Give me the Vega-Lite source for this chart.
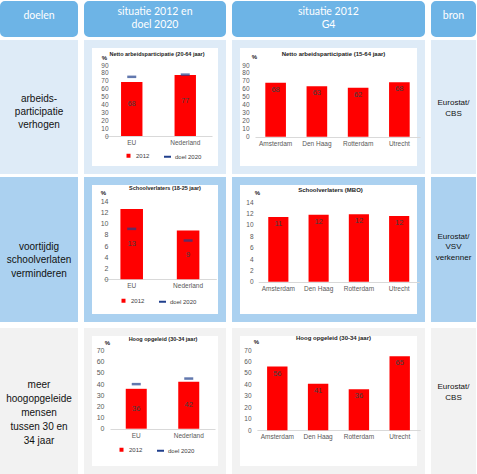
{
  "$schema": "https://vega.github.io/schema/vega-lite/v6.json",
  "background": "white",
  "padding": {"top": 1, "left": 0, "right": 0, "bottom": 0},
  "config": {
    "font": "Liberation Sans",
    "axis": {"grid": false, "ticks": false, "tickSize": 0, "labelFontSize": 6.5, "labelColor": "#595959", "labelFont": "Liberation Sans", "labelFlush": false, "labelOverlap": false},
    "title": {"fontSize": 5.5, "fontWeight": "bold", "font": "Liberation Sans", "color": "#222222", "baseline": "middle", "anchor": "middle"},
    "legend": {"padding": 0, "labelFontSize": 6, "labelColor": "#404040", "labelFont": "Liberation Sans", "symbolSize": 16, "labelOffset": 3, "columnPadding": 10}
  },
  "spacing": 6,
  "resolve": {"scale": {"color": "independent", "x": "independent", "y": "independent"}, "legend": {"color": "independent"}},
  "vconcat": [
    {
      "spacing": 3,
      "resolve": {"scale": {"color": "independent", "x": "independent", "y": "independent"}, "legend": {"color": "independent"}},
      "vconcat": [
        {
          "spacing": 6,
          "hconcat": [
            {"width": 70, "height": 28, "view": {"fill": "#6db4e6", "stroke": "#6db4e6", "strokeWidth": 8, "cornerRadius": 1},
             "data": {"values": [{"t": "doelen"}]},
             "mark": {"type": "text", "font": "Lato", "fontSize": 10.5, "color": "white", "lineBreak": "\n", "lineHeight": 13, "baseline": "top", "dy": -8.5},
             "encoding": {"text": {"field": "t", "type": "nominal"}}},
            {"width": 134, "height": 28, "view": {"fill": "#6db4e6", "stroke": "#6db4e6", "strokeWidth": 8, "cornerRadius": 1},
             "data": {"values": [{"t": "situatie 2012 en\ndoel 2020"}]},
             "mark": {"type": "text", "font": "Lato", "fontSize": 10.5, "color": "white", "lineBreak": "\n", "lineHeight": 13, "baseline": "top", "dy": -11.7},
             "encoding": {"text": {"field": "t", "type": "nominal"}}},
            {"width": 185, "height": 28, "view": {"fill": "#6db4e6", "stroke": "#6db4e6", "strokeWidth": 8, "cornerRadius": 1},
             "data": {"values": [{"t": "situatie 2012\nG4"}]},
             "mark": {"type": "text", "font": "Lato", "fontSize": 10.5, "color": "white", "lineBreak": "\n", "lineHeight": 13, "baseline": "top", "dy": -11.7},
             "encoding": {"text": {"field": "t", "type": "nominal"}}},
            {"width": 37, "height": 28, "view": {"fill": "#6db4e6", "stroke": "#6db4e6", "strokeWidth": 8, "cornerRadius": 1},
             "data": {"values": [{"t": "bron"}]},
             "mark": {"type": "text", "font": "Lato", "fontSize": 10.5, "color": "white", "lineBreak": "\n", "lineHeight": 13, "baseline": "top", "dy": -8.5},
             "encoding": {"text": {"field": "t", "type": "nominal"}}}
          ]
        },
        {
          "spacing": 6,
          "resolve": {"scale": {"color": "independent", "x": "independent", "y": "independent"}, "legend": {"color": "independent"}},
          "hconcat": [
            {"width": 70, "height": 126, "view": {"fill": "#deebf7", "stroke": "#deebf7", "strokeWidth": 8},
             "data": {"values": [{"t": "arbeids-\nparticipatie\nverhogen"}]},
             "mark": {"type": "text", "fontSize": 10, "color": "#111111", "lineBreak": "\n", "lineHeight": 13, "baseline": "top", "dy": -13},
             "encoding": {"text": {"field": "t", "type": "nominal"}}},
            {
              "width": 134, "height": 126,
              "view": {"fill": "white", "stroke": "#deebf7", "strokeWidth": 8},
              "title": {"text": "Netto arbeidsparticipatie (20-64 jaar)", "offset": -13, "dx": 2},
              "data": {"values": [
                {"regio": "EU", "serie": "2012", "waarde": 68.4},
                {"regio": "Nederland", "serie": "2012", "waarde": 77.2},
                {"regio": "EU", "serie": "doel 2020", "waarde": 75},
                {"regio": "Nederland", "serie": "doel 2020", "waarde": 77.8}
              ]},
              "encoding": {
                "x": {"field": "regio", "type": "nominal", "sort": null,
                      "scale": {"range": [17, 124], "paddingInner": 0.6, "paddingOuter": 0.3},
                      "axis": {"title": null, "labelAngle": 0, "domain": true, "domainColor": "#d9d9d9", "labelPadding": 3, "offset": -34}},
                "y": {"field": "waarde", "type": "quantitative",
                      "scale": {"domain": [0, 90], "range": [92, 21], "nice": false},
                      "axis": {"title": "%", "titleAngle": 0, "titleX": -6, "titleY": 13, "titleAlign": "center", "titleBaseline": "middle", "titleFontSize": 6, "titleFontWeight": "bold", "titleColor": "#222222",
                               "values": [0, 10, 20, 30, 40, 50, 60, 70, 80, 90], "labelOverlap": false, "labelFontSize": 6.5, "domain": false, "labelPadding": 2, "offset": -22}}
              },
              "layer": [
                {"transform": [{"filter": "datum.serie === '2012'"}],
                 "mark": {"type": "bar"},
                 "encoding": {
                   "color": {"field": "serie", "type": "nominal",
                             "scale": {"domain": ["2012", "doel 2020"], "range": ["#ff0000", "#203f8c"]},
                             "legend": {"title": null, "orient": "none", "legendX": 36, "legendY": 107, "direction": "horizontal",
                                        "encode": {"symbols": {"update": {
                                          "shape": {"signal": "datum.value === '2012' ? 'square' : 'stroke'"},
                                          "size": {"signal": "datum.value === '2012' ? 16 : 49"},
                                          "fill": {"signal": "datum.value === '2012' ? '#ff0000' : 'transparent'"},
                                          "stroke": {"signal": "datum.value === '2012' ? 'transparent' : '#203f8c'"},
                                          "strokeWidth": {"value": 2}}}}}}
                 }},
                {"transform": [{"filter": "datum.serie === 'doel 2020'"}],
                 "mark": {"type": "tick", "size": 9, "thickness": 2.5},
                 "encoding": {"color": {"field": "serie", "type": "nominal"}}},
                {"transform": [{"filter": "datum.serie === '2012'"}, {"calculate": "datum.waarde / 2", "as": "midden"}],
                 "mark": {"type": "text", "fontSize": 7, "color": "#404040", "baseline": "middle", "dy": -5},
                 "encoding": {
                   "y": {"field": "midden", "type": "quantitative",
                         "axis": {"title": "%", "titleAngle": 0, "titleX": -6, "titleY": 13, "titleAlign": "center", "titleBaseline": "middle", "titleFontSize": 6, "titleFontWeight": "bold", "titleColor": "#222222",
                                  "values": [0, 10, 20, 30, 40, 50, 60, 70, 80, 90], "labelOverlap": false, "labelFontSize": 6.5, "domain": false, "labelPadding": 2, "offset": -22}},
                   "text": {"field": "waarde", "type": "quantitative", "format": ".0f"}}}
              ]
            },
            {
              "width": 185, "height": 126,
              "view": {"fill": "white", "stroke": "#deebf7", "strokeWidth": 8},
              "title": {"text": "Netto arbeidsparticipatie (15-64 jaar)", "offset": -13, "dx": 5, "fontSize": 6},
              "data": {"values": [
                {"stad": "Amsterdam", "waarde": 67.7},
                {"stad": "Den Haag", "waarde": 63.2},
                {"stad": "Rotterdam", "waarde": 61.6},
                {"stad": "Utrecht", "waarde": 68.4}
              ]},
              "encoding": {
                "x": {"field": "stad", "type": "nominal", "sort": null,
                      "scale": {"range": [19, 184], "paddingInner": 0.5, "paddingOuter": 0.25},
                      "axis": {"title": null, "labelAngle": 0, "domain": true, "domainColor": "#d9d9d9", "labelPadding": 3, "offset": -33}},
                "y": {"field": "waarde", "type": "quantitative",
                      "scale": {"domain": [0, 90], "range": [92.7, 21], "nice": false},
                      "axis": {"title": "%", "titleAngle": 0, "titleX": 3, "titleY": 12, "titleAlign": "center", "titleBaseline": "middle", "titleFontSize": 6, "titleFontWeight": "bold", "titleColor": "#222222",
                               "values": [0, 10, 20, 30, 40, 50, 60, 70, 80, 90], "labelOverlap": false, "domain": false, "labelPadding": 2, "offset": -15}}
              },
              "layer": [
                {"mark": {"type": "bar", "color": "#ff0000"}},
                {"mark": {"type": "text", "fontSize": 7.5, "color": "#404040", "baseline": "top", "dy": 3},
                 "encoding": {"text": {"field": "waarde", "type": "quantitative", "format": ".0f"}}}
              ]
            },
            {"width": 37, "height": 126, "view": {"fill": "#deebf7", "stroke": "#deebf7", "strokeWidth": 8},
             "data": {"values": [{"t": "Eurostat/\nCBS"}]},
             "mark": {"type": "text", "fontSize": 8, "color": "#111111", "lineBreak": "\n", "lineHeight": 10.5, "baseline": "top", "dy": -8},
             "encoding": {"text": {"field": "t", "type": "nominal"}}}
          ]
        },
        {
          "spacing": 6,
          "resolve": {"scale": {"color": "independent", "x": "independent", "y": "independent"}, "legend": {"color": "independent"}},
          "hconcat": [
            {"width": 70, "height": 137, "view": {"fill": "#abd1f0", "stroke": "#abd1f0", "strokeWidth": 8},
             "data": {"values": [{"t": "voortijdig\nschoolverlaten\nverminderen"}]},
             "mark": {"type": "text", "fontSize": 10, "color": "#111111", "lineBreak": "\n", "lineHeight": 13.5, "baseline": "top", "dy": -8},
             "encoding": {"text": {"field": "t", "type": "nominal"}}},
            {
              "width": 134, "height": 137,
              "view": {"fill": "white", "stroke": "#abd1f0", "strokeWidth": 8},
              "title": {"text": "Schoolverlaters (18-25 jaar)", "offset": -10, "dx": 10},
              "data": {"values": [
                {"regio": "EU", "serie": "2012", "waarde": 12.7},
                {"regio": "Nederland", "serie": "2012", "waarde": 8.8},
                {"regio": "EU", "serie": "doel 2020", "waarde": 9.1},
                {"regio": "Nederland", "serie": "doel 2020", "waarde": 7}
              ]},
              "encoding": {
                "x": {"field": "regio", "type": "nominal", "sort": null,
                      "scale": {"range": [15.5, 128.3], "paddingInner": 0.6, "paddingOuter": 0.3},
                      "axis": {"title": null, "labelAngle": 0, "domain": true, "domainColor": "#d9d9d9", "labelPadding": 3, "offset": -39}},
                "y": {"field": "waarde", "type": "quantitative",
                      "scale": {"domain": [0, 14], "range": [98.3, 20.7], "nice": false},
                      "axis": {"title": "%", "titleAngle": 0, "titleX": -7, "titleY": 11, "titleAlign": "center", "titleBaseline": "middle", "titleFontSize": 6, "titleFontWeight": "bold", "titleColor": "#222222",
                               "values": [0, 2, 4, 6, 8, 10, 12, 14], "labelOverlap": false, "labelFontSize": 7, "domain": false, "labelPadding": 2, "offset": -22}}
              },
              "layer": [
                {"transform": [{"filter": "datum.serie === '2012'"}],
                 "mark": {"type": "bar"},
                 "encoding": {
                   "color": {"field": "serie", "type": "nominal",
                             "scale": {"domain": ["2012", "doel 2020"], "range": ["#ff0000", "#203f8c"]},
                             "legend": {"title": null, "orient": "none", "legendX": 31, "legendY": 115, "direction": "horizontal",
                                        "encode": {"symbols": {"update": {
                                          "shape": {"signal": "datum.value === '2012' ? 'square' : 'stroke'"},
                                          "size": {"signal": "datum.value === '2012' ? 16 : 49"},
                                          "fill": {"signal": "datum.value === '2012' ? '#ff0000' : 'transparent'"},
                                          "stroke": {"signal": "datum.value === '2012' ? 'transparent' : '#203f8c'"},
                                          "strokeWidth": {"value": 2}}}}}}
                 }},
                {"transform": [{"filter": "datum.serie === 'doel 2020'"}],
                 "mark": {"type": "tick", "size": 9, "thickness": 2.5},
                 "encoding": {"color": {"field": "serie", "type": "nominal"}}},
                {"transform": [{"filter": "datum.serie === '2012'"}, {"calculate": "datum.waarde / 2", "as": "midden"}],
                 "mark": {"type": "text", "fontSize": 7.5, "color": "#404040", "baseline": "middle"},
                 "encoding": {
                   "y": {"field": "midden", "type": "quantitative",
                         "axis": {"title": "%", "titleAngle": 0, "titleX": -7, "titleY": 11, "titleAlign": "center", "titleBaseline": "middle", "titleFontSize": 6, "titleFontWeight": "bold", "titleColor": "#222222",
                                  "values": [0, 2, 4, 6, 8, 10, 12, 14], "labelOverlap": false, "labelFontSize": 7, "domain": false, "labelPadding": 2, "offset": -22}},
                   "text": {"field": "waarde", "type": "quantitative", "format": ".0f"}}}
              ]
            },
            {
              "width": 185, "height": 137,
              "view": {"fill": "white", "stroke": "#abd1f0", "strokeWidth": 8},
              "title": {"text": "Schoolverlaters (MBO)", "offset": -12, "dx": 2, "fontSize": 6},
              "data": {"values": [
                {"stad": "Amsterdam", "waarde": 11.4},
                {"stad": "Den Haag", "waarde": 11.8},
                {"stad": "Rotterdam", "waarde": 11.9},
                {"stad": "Utrecht", "waarde": 11.6}
              ]},
              "encoding": {
                "x": {"field": "stad", "type": "nominal", "sort": null,
                      "scale": {"range": [22.2, 183.3], "paddingInner": 0.5, "paddingOuter": 0.25},
                      "axis": {"title": null, "labelAngle": 0, "domain": true, "domainColor": "#d9d9d9", "labelPadding": 3, "offset": -36}},
                "y": {"field": "waarde", "type": "quantitative",
                      "scale": {"domain": [0, 14], "range": [100.7, 21.3], "nice": false},
                      "axis": {"title": "%", "titleAngle": 0, "titleX": 2, "titleY": 11, "titleAlign": "center", "titleBaseline": "middle", "titleFontSize": 6, "titleFontWeight": "bold", "titleColor": "#222222",
                               "values": [0, 2, 4, 6, 8, 10, 12, 14], "labelOverlap": false, "domain": false, "labelPadding": 2, "offset": -19}}
              },
              "layer": [
                {"mark": {"type": "bar", "color": "#ff0000"}},
                {"mark": {"type": "text", "fontSize": 7.5, "color": "#404040", "baseline": "top", "dy": 3},
                 "encoding": {"text": {"field": "waarde", "type": "quantitative", "format": ".0f"}}}
              ]
            },
            {"width": 37, "height": 137, "view": {"fill": "#abd1f0", "stroke": "#abd1f0", "strokeWidth": 8},
             "data": {"values": [{"t": "Eurostat/\nVSV\nverkenner"}]},
             "mark": {"type": "text", "fontSize": 8, "color": "#111111", "lineBreak": "\n", "lineHeight": 10.5, "baseline": "top", "dy": -17},
             "encoding": {"text": {"field": "t", "type": "nominal"}}}
          ]
        }
      ]
    },
    {
      "spacing": 6,
      "resolve": {"scale": {"color": "independent", "x": "independent", "y": "independent"}, "legend": {"color": "independent"}},
      "hconcat": [
        {"width": 70, "height": 138, "view": {"fill": "#f2f2f2", "stroke": "#f2f2f2", "strokeWidth": 8},
         "data": {"values": [{"t": "meer\nhoogopgeleide\nmensen\ntussen 30 en\n34 jaar"}]},
         "mark": {"type": "text", "fontSize": 10, "color": "#111111", "lineBreak": "\n", "lineHeight": 14, "baseline": "top", "dy": -21},
         "encoding": {"text": {"field": "t", "type": "nominal"}}},
        {
          "width": 134, "height": 138,
          "view": {"fill": "white", "stroke": "#f2f2f2", "strokeWidth": 8},
          "title": {"text": "Hoog opgeleid (30-34 jaar)", "offset": -10, "dx": 8},
          "data": {"values": [
            {"regio": "EU", "serie": "2012", "waarde": 35.8},
            {"regio": "Nederland", "serie": "2012", "waarde": 42.2},
            {"regio": "EU", "serie": "doel 2020", "waarde": 40},
            {"regio": "Nederland", "serie": "doel 2020", "waarde": 45}
          ]},
          "encoding": {
            "x": {"field": "regio", "type": "nominal", "sort": null,
                  "scale": {"range": [22, 127], "paddingInner": 0.6, "paddingOuter": 0.3},
                  "axis": {"title": null, "labelAngle": 0, "domain": true, "domainColor": "#d9d9d9", "labelPadding": 3, "offset": -41}},
            "y": {"field": "waarde", "type": "quantitative",
                  "scale": {"domain": [0, 70], "range": [96.7, 18.7], "nice": false},
                  "axis": {"title": "%", "titleAngle": 0, "titleX": 1, "titleY": 10, "titleAlign": "center", "titleBaseline": "middle", "titleFontSize": 6, "titleFontWeight": "bold", "titleColor": "#222222",
                           "values": [0, 10, 20, 30, 40, 50, 60, 70], "labelOverlap": false, "labelFontSize": 7, "domain": false, "labelPadding": 2, "offset": -18}}
          },
          "layer": [
            {"transform": [{"filter": "datum.serie === '2012'"}],
             "mark": {"type": "bar"},
             "encoding": {
               "color": {"field": "serie", "type": "nominal",
                         "scale": {"domain": ["2012", "doel 2020"], "range": ["#ff0000", "#203f8c"]},
                         "legend": {"title": null, "orient": "none", "legendX": 29, "legendY": 113, "direction": "horizontal",
                                    "encode": {"symbols": {"update": {
                                      "shape": {"signal": "datum.value === '2012' ? 'square' : 'stroke'"},
                                      "size": {"signal": "datum.value === '2012' ? 16 : 49"},
                                      "fill": {"signal": "datum.value === '2012' ? '#ff0000' : 'transparent'"},
                                      "stroke": {"signal": "datum.value === '2012' ? 'transparent' : '#203f8c'"},
                                      "strokeWidth": {"value": 2}}}}}}
             }},
            {"transform": [{"filter": "datum.serie === 'doel 2020'"}],
             "mark": {"type": "tick", "size": 9, "thickness": 2.5},
             "encoding": {"color": {"field": "serie", "type": "nominal"}}},
            {"transform": [{"filter": "datum.serie === '2012'"}, {"calculate": "datum.waarde / 2", "as": "midden"}],
             "mark": {"type": "text", "fontSize": 7.5, "color": "#404040", "baseline": "middle"},
             "encoding": {
               "y": {"field": "midden", "type": "quantitative",
                     "axis": {"title": "%", "titleAngle": 0, "titleX": 1, "titleY": 10, "titleAlign": "center", "titleBaseline": "middle", "titleFontSize": 6, "titleFontWeight": "bold", "titleColor": "#222222",
                              "values": [0, 10, 20, 30, 40, 50, 60, 70], "labelOverlap": false, "labelFontSize": 7, "domain": false, "labelPadding": 2, "offset": -18}},
               "text": {"field": "waarde", "type": "quantitative", "format": ".0f"}}}
          ]
        },
        {
          "width": 185, "height": 138,
          "view": {"fill": "white", "stroke": "#f2f2f2", "strokeWidth": 8},
          "title": {"text": "Hoog opgeleid (30-34 jaar)", "offset": -9, "dx": 5, "fontSize": 6},
          "data": {"values": [
            {"stad": "Amsterdam", "waarde": 55.6},
            {"stad": "Den Haag", "waarde": 40.6},
            {"stad": "Rotterdam", "waarde": 35.7},
            {"stad": "Utrecht", "waarde": 64.6}
          ]},
          "encoding": {
            "x": {"field": "stad", "type": "nominal", "sort": null,
                  "scale": {"range": [20.9, 184.1], "paddingInner": 0.5, "paddingOuter": 0.25},
                  "axis": {"title": null, "labelAngle": 0, "domain": true, "domainColor": "#d9d9d9", "labelPadding": 3, "offset": -40}},
            "y": {"field": "waarde", "type": "quantitative",
                  "scale": {"domain": [0, 70], "range": [98.3, 18], "nice": false},
                  "axis": {"title": "%", "titleAngle": 0, "titleX": 3, "titleY": 9, "titleAlign": "center", "titleBaseline": "middle", "titleFontSize": 6, "titleFontWeight": "bold", "titleColor": "#222222",
                           "values": [0, 10, 20, 30, 40, 50, 60, 70], "labelOverlap": false, "domain": false, "labelPadding": 2, "offset": -17}}
          },
          "layer": [
            {"mark": {"type": "bar", "color": "#ff0000"}},
            {"mark": {"type": "text", "fontSize": 7.5, "color": "#404040", "baseline": "top", "dy": 3},
             "encoding": {"text": {"field": "waarde", "type": "quantitative", "format": ".0f"}}}
          ]
        },
        {"width": 37, "height": 138, "view": {"fill": "#f2f2f2", "stroke": "#f2f2f2", "strokeWidth": 8},
         "data": {"values": [{"t": "Eurostat/\nCBS"}]},
         "mark": {"type": "text", "fontSize": 8, "color": "#111111", "lineBreak": "\n", "lineHeight": 10.5, "baseline": "top", "dy": -18},
         "encoding": {"text": {"field": "t", "type": "nominal"}}}
      ]
    }
  ]
}
